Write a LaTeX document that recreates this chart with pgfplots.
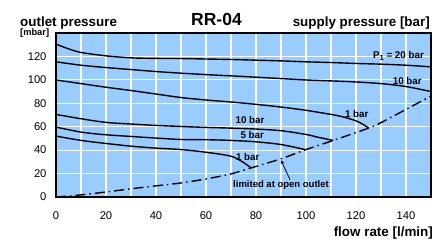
\documentclass[border=0pt]{standalone}
\usepackage{fontspec}
\setmainfont{Liberation Sans}
\usepackage{pgfplots}
\pgfplotsset{compat=1.18}
\definecolor{chartblue}{HTML}{99CCFF}
\begin{document}
\begin{tikzpicture}[x=1pt,y=1pt]
\begin{axis}[
  at={(0,0)}, anchor=south west,
  scale only axis, width=375pt, height=164pt,
  xmin=0, xmax=150, ymin=0, ymax=140,
  xtick={0,20,...,140}, minor xtick={10,30,...,150},
  ytick={0,20,...,120},
  grid=both,
  major grid style={white, line width=1.1pt},
  minor grid style={white, line width=1.1pt},
  major tick length=0pt, minor tick length=0pt,
  axis background/.style={fill=chartblue},
  axis line style={black, line width=1.3pt},
  ticklabel style={font=\fontsize{11.2}{13}\selectfont},
  /pgf/number format/assume math mode=true,
  xticklabel style={yshift=-11pt},
  yticklabel style={xshift=-6pt},
  clip=false,
]
% 20 bar
\addplot[black, line width=1.4pt, smooth] coordinates {
(0,130.5) (5,126.5) (10,123.4) (20,120.5) (30,118.8) (40,118.3) (50,118.2) (60,117.8) (70,117.4) (80,116.8) (90,116.2) (100,115.4) (110,114.8) (120,114) (130,113.4) (140,112.5) (150,111.1)};
% 10 bar upper
\addplot[black, line width=1.4pt, smooth] coordinates {
(0,115.4) (10,112.5) (20,110.5) (30,108.8) (40,107.1) (50,105.7) (60,104.5) (70,103.4) (80,102.3) (90,101.1) (100,99.9) (110,99.1) (120,98.2) (130,96.8) (140,94.3) (150,90)};
% 1 bar upper
\addplot[black, line width=1.4pt, smooth] coordinates {
(0,99.9) (10,96.8) (20,93.7) (30,90.9) (40,87.9) (50,84.9) (60,82.8) (70,81.1) (80,79.1) (90,76.8) (100,74) (110,70.5) (115,68.3) (120,65) (123,61.8) (125,58.8)};
% 10 bar lower
\addplot[black, line width=1.4pt, smooth] coordinates {
(0,70.5) (10,66.8) (20,63.7) (30,62.3) (40,61.1) (50,60.2) (60,59.4) (70,58.8) (80,58) (90,56.6) (100,53.4) (104,51.4) (110.9,48.3)};
% 5 bar
\addplot[black, line width=1.4pt, smooth] coordinates {
(0,59.7) (10,55.4) (20,53.1) (30,51.7) (40,50.3) (50,49.1) (60,48.9) (70,48.3) (80,47.1) (90,44.8) (99.6,40.5)};
% 1 bar lower
\addplot[black, line width=1.4pt, smooth] coordinates {
(0,52) (10,48.3) (20,45.7) (30,43.4) (40,41.7) (50,40.5) (60,38.2) (70,34.8) (75,29.5) (78,24.8)};
% limit line
\addplot[black, line width=1.4pt, dash pattern=on 10pt off 4pt on 1.5pt off 4pt, smooth] coordinates {
(0,0) (10,1.8) (20,4.3) (30,7) (40,9.5) (50,12) (60,15.4) (70,19.7) (78,24.8) (90,32.6) (100,40.5) (110.9,48.3) (125,58.8) (130,63.5) (140,74.8) (150,86.2)};

\draw[black, line width=0.8pt, -stealth] (axis cs:93.6,14.8) -- (axis cs:90,31.4);
\node[font=\bfseries\fontsize{9.5}{11}\selectfont] at (axis cs:90,9.9) {limited at open outlet};
\node[font=\bfseries\fontsize{9.8}{11}\selectfont] at (axis cs:77.6,65.7) {10 bar};
\node[font=\bfseries\fontsize{9.8}{11}\selectfont] at (axis cs:78.5,53.1) {5 bar};
\node[font=\bfseries\fontsize{9.8}{11}\selectfont] at (axis cs:76.7,34.3) {1 bar};
\node[font=\bfseries\fontsize{9.8}{11}\selectfont] at (axis cs:137,120.5) {P\raisebox{-1.5pt}{\fontsize{7.5}{8}\selectfont 1} = 20 bar};
\node[font=\bfseries\fontsize{9.8}{11}\selectfont] at (axis cs:140.5,99.1) {10 bar};
\node[font=\bfseries\fontsize{9.8}{11}\selectfont] at (axis cs:120.3,70.5) {1 bar};
\end{axis}
\node[anchor=base west, font=\bfseries\fontsize{13.4}{15}\selectfont, inner sep=0pt] at (-36,170.3) {outlet pressure};
\node[anchor=base west, font=\bfseries\fontsize{9.3}{10}\selectfont, inner sep=0pt] at (-36,161.6) {[mbar]};
\node[anchor=base, font=\bfseries\fontsize{17.5}{20}\selectfont, inner sep=0pt] at (160.5,171) {RR-04};
\node[anchor=base east, font=\bfseries\fontsize{13.4}{15}\selectfont, inner sep=0pt] at (374,170.3) {supply pressure [bar]};
\node[anchor=base east, font=\bfseries\fontsize{13.4}{15}\selectfont, inner sep=0pt] at (377,-40) {flow rate [l/min]};
\pgfresetboundingbox
\useasboundingbox (-56,-44) rectangle (392,197);
\end{tikzpicture}
\end{document}
